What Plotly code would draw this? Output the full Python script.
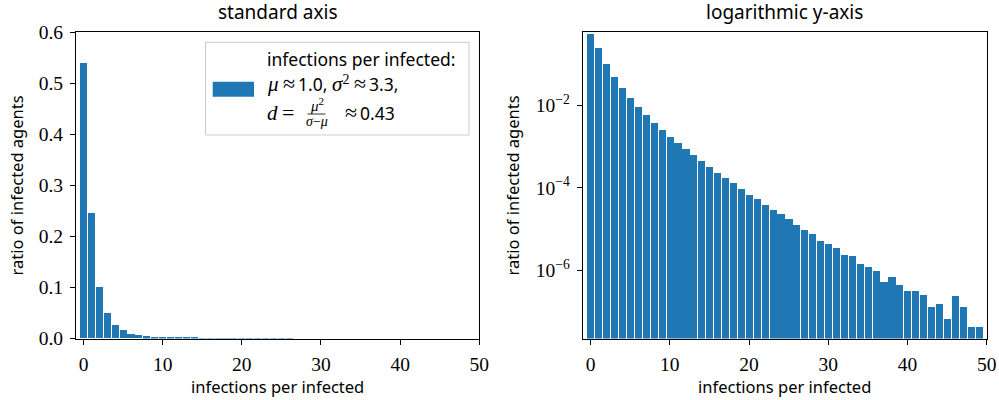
import plotly.graph_objects as go

# ---- data ----
infections = list(range(50))
ratio = [0.54, 0.245, 0.101, 0.0487, 0.0264, 0.0151, 0.00912, 0.00582, 0.00372, 0.00252,
         0.00170, 0.00122, 8.7e-4, 6.2e-4, 4.45e-4, 3.18e-4, 2.27e-4, 1.72e-4, 1.30e-4, 9.3e-5,
         6.64e-5, 5.31e-5, 3.79e-5, 2.87e-5, 2.29e-5, 1.73e-5, 1.24e-5, 9.4e-6, 7.49e-6, 5.06e-6,
         4.28e-6, 3.42e-6, 2.31e-6, 2.19e-6, 1.40e-6, 1.18e-6, 9.46e-7, 5.12e-7, 6.76e-7, 4.32e-7,
         3.09e-7, 3.09e-7, 2.47e-7, 1.26e-7, 1.49e-7, 6.45e-8, 2.33e-7, 1.26e-7, 4.12e-8, 4.12e-8]
x_ticks = [0, 10, 20, 30, 40, 50]
lin_ticks = [0.0, 0.1, 0.2, 0.3, 0.4, 0.5, 0.6]
log_ticks = [1e-2, 1e-4, 1e-6]
log_ticktext = ["10<sup>−2</sup>", "10<sup>−4</sup>", "10<sup>−6</sup>"]
titles = ["standard axis", "logarithmic y-axis"]
xlabel = "infections per infected"
ylabel = "ratio of infected agents"

W, H = 999, 400
BLUE = "#1f77b4"
SANS = "Noto Sans"
SERIF = "Liberation Serif, DejaVu Serif, serif"
LBL = 16.5

def px(x):
    return x / W

def py(y):
    return 1 - y / H

fig = go.Figure()
fig.add_trace(go.Bar(x=infections, y=ratio, width=0.9, marker=dict(color=BLUE, line=dict(width=0)),
                     xaxis="x", yaxis="y", showlegend=False))
fig.add_trace(go.Bar(x=infections, y=ratio, width=0.9, marker=dict(color=BLUE, line=dict(width=0)),
                     xaxis="x2", yaxis="y2", showlegend=False))

ydom = [py(338.5), py(32.3)]
axis_common = dict(showline=True, linecolor="black", linewidth=1.1, mirror=True,
                   ticks="outside", ticklen=5, tickwidth=1.1, tickcolor="black",
                   showgrid=False, zeroline=False, automargin=False, ticklabelstandoff=3,
                   tickfont=dict(family=SERIF, size=19.5, color="black"))

def ttl(text, standoff):
    return dict(text=text, font=dict(family=SANS, size=LBL, color="black"), standoff=standoff)

fig.update_layout(
    width=W, height=H,
    margin=dict(l=0, r=0, t=0, b=0, autoexpand=False),
    plot_bgcolor="white", paper_bgcolor="white",
    bargap=0,
    xaxis=dict(domain=[px(76), px(479.3)], range=[-0.95, 50], tickvals=x_ticks,
               title=ttl(xlabel, 4), anchor="y", **axis_common),
    yaxis=dict(domain=ydom, range=[0, 0.6], tickvals=lin_ticks, tickformat=".1f",
               title=ttl(ylabel, 10), anchor="x", **axis_common),
    xaxis2=dict(domain=[px(582.7), px(986.7)], range=[-1.0, 50], tickvals=x_ticks,
                title=ttl(xlabel, 4), anchor="y2", **axis_common),
    yaxis2=dict(domain=ydom, type="log", range=[-7.66, -0.227], tickvals=log_ticks,
                ticktext=log_ticktext, title=ttl(ylabel, 11), anchor="x2", **axis_common),
)

# subplot titles
for cx, t in [((76 + 479.3) / 2, titles[0]), ((582.7 + 986.7) / 2, titles[1])]:
    fig.add_annotation(x=px(cx), y=py(12), xref="paper", yref="paper", text=t, showarrow=False,
                       xanchor="center", yanchor="middle",
                       font=dict(family=SANS, size=19, color="black"))

# legend (drawn manually to mimic the wide patch)
fig.add_shape(type="rect", xref="paper", yref="paper",
              x0=px(205.5), x1=px(469), y0=py(135), y1=py(42.3),
              line=dict(color="#cccccc", width=1), fillcolor="rgba(255,255,255,0.8)")
fig.add_shape(type="rect", xref="paper", yref="paper",
              x0=px(212.7), x1=px(254), y0=py(96.7), y1=py(81.7),
              line=dict(width=0), fillcolor=BLUE)

LF = 17.5
SER1 = "Liberation Serif"
def ser(s, italic=True, size=None):
    st = "font-family:'%s';" % SER1
    if size:
        st += "font-size:%spx;" % size
    inner = "<i>%s</i>" % s if italic else s
    return '<span style="%s">%s</span>' % (st, inner)

X0 = 265
TS = "\u2009"
fig.add_annotation(x=px(X0), y=py(59), xref="paper", yref="paper", showarrow=False,
                   xanchor="left", yanchor="middle", align="left",
                   text="infections per infected:", font=dict(family=SANS, size=LF, color="black"))
fig.add_annotation(x=px(X0), y=py(84), xref="paper", yref="paper", showarrow=False,
                   xanchor="left", yanchor="middle", align="left",
                   text=ser("μ", size=21) + " " + ser("≈", False, 22) + TS + "1.0, " + ser("σ", size=21)
                   + "<sup>" + ser("2", False, 14) + "</sup> " + ser("≈", False, 22) + TS + "3.3,",
                   font=dict(family=SANS, size=LF, color="black"))
fig.add_annotation(x=px(X0), y=py(112), xref="paper", yref="paper", showarrow=False,
                   xanchor="left", yanchor="middle", align="left",
                   text=ser("d", size=21) + " " + ser("=", False, 22),
                   font=dict(family=SANS, size=LF, color="black"))
# fraction mu^2 / (sigma - mu)
fig.add_annotation(x=px(316.5), y=py(104.5), xref="paper", yref="paper", showarrow=False,
                   xanchor="center", yanchor="middle",
                   text=ser("μ", size=15) + "<sup>" + ser("2", False, 11) + "</sup>",
                   font=dict(family=SER1, size=15, color="black"))
fig.add_shape(type="line", xref="paper", yref="paper", x0=px(307.5), x1=px(325.5),
              y0=py(114), y1=py(114), line=dict(color="black", width=0.8))
fig.add_annotation(x=px(316.5), y=py(122), xref="paper", yref="paper", showarrow=False,
                   xanchor="center", yanchor="middle",
                   text=ser("σ", size=14) + ser("−", False, 14) + ser("μ", size=14),
                   font=dict(family=SER1, size=14, color="black"))
fig.add_annotation(x=px(343), y=py(112), xref="paper", yref="paper", showarrow=False,
                   xanchor="left", yanchor="middle", align="left",
                   text=ser("≈", False, 22) + TS + "0.43",
                   font=dict(family=SANS, size=LF, color="black"))

fig.write_html("out.html", config={"displayModeBar": False},
               post_script="document.body.style.margin='0';")
